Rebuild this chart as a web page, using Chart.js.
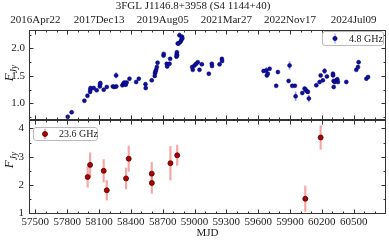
<!DOCTYPE html>
<html>
<head>
<meta charset="utf-8">
<script src="https://cdn.jsdelivr.net/npm/chart.js@4/dist/chart.umd.min.js"></script>
<style>
  body { margin: 0; background: #fff; }
  #wrap { position: relative; width: 389px; height: 243px; }
  #top { position: absolute; left: 0; top: 0; }
  #bot { position: absolute; left: 0; top: 120px; }
</style>
</head>
<body>
<div id="wrap">
  <canvas id="top" width="389" height="121"></canvas>
  <canvas id="bot" width="389" height="123"></canvas>
</div>
<script>
// 4.8 GHz light curve
var mjd48 = [57805, 57842, 57962, 57991, 58016, 58018, 58020, 58050, 58078, 58108, 58110, 58112,
  58144, 58173, 58230, 58245, 58261, 58263, 58320, 58330, 58338, 58345, 58352, 58360, 58387,
  58450, 58475, 58538, 58540, 58597, 58625, 58628, 58632, 58638, 58645, 58652, 58708, 58710,
  58738, 58742, 58765, 58770, 58830, 58832, 58834, 58836, 58842, 58850, 58858, 58868, 58875,
  58882, 58885,
  58978, 58984, 59000, 59016, 59031, 59047, 59069, 59135, 59163, 59165, 59236, 59258, 59260,
  59651, 59676, 59682, 59691, 59708, 59770, 59786, 59887, 59896, 59921, 59946, 59953,
  60016, 60038, 60047, 60060, 60069, 60078, 60148, 60179, 60189, 60210, 60226, 60248,
  60305, 60306, 60311, 60312, 60321, 60337, 60346, 60352, 60431, 60525, 60541, 60547, 60620, 60636];
var flux48 = [0.76, 0.84, 1.05, 1.14, 1.21, 1.25, 1.28, 1.28, 1.24, 1.31, 1.35, 1.37,
  1.25, 1.30, 1.31, 1.30, 1.51, 1.31, 1.33, 1.36, 1.38, 1.35, 1.34, 1.38, 1.45,
  1.39, 1.45, 1.35, 1.28, 1.42, 1.50, 1.55, 1.58, 1.61, 1.66, 1.74, 1.87, 1.90,
  1.72, 1.67, 1.72, 1.81, 1.85, 1.89, 1.93, 1.87, 2.09, 2.09, 2.24, 2.12, 2.15,
  2.21, 2.18,
  1.66, 1.61, 1.69, 1.72, 1.75, 1.61, 1.71, 1.54, 1.72, 1.68, 1.71, 1.81, 1.77,
  1.59, 1.60, 1.51, 1.54, 1.63, 1.32, 1.57, 1.41, 1.69, 1.32, 1.32, 1.13,
  1.19, 1.27, 1.25, 1.22, 1.21, 1.09, 1.33, 1.39, 1.51, 1.42, 1.59, 1.49,
  1.54, 1.51, 1.41, 1.30, 1.39, 1.42, 1.44, 1.39, 1.39, 1.61, 1.66, 1.75, 1.45, 1.48];
var err48 = [0.02, 0.02, 0.02, 0.02, 0.02, 0.02, 0.02, 0.02, 0.02, 0.02, 0.02, 0.02,
  0.02, 0.02, 0.02, 0.02, 0.05, 0.03, 0.02, 0.02, 0.02, 0.02, 0.02, 0.02, 0.02,
  0.02, 0.02, 0.03, 0.02, 0.02, 0.02, 0.02, 0.02, 0.02, 0.02, 0.03, 0.03, 0.03,
  0.02, 0.02, 0.02, 0.02, 0.02, 0.02, 0.02, 0.02, 0.03, 0.03, 0.04, 0.04, 0.04,
  0.04, 0.04,
  0.02, 0.02, 0.02, 0.02, 0.02, 0.02, 0.02, 0.02, 0.02, 0.02, 0.02, 0.02, 0.02,
  0.03, 0.05, 0.03, 0.03, 0.02, 0.02, 0.02, 0.02, 0.07, 0.02, 0.02, 0.08,
  0.02, 0.02, 0.02, 0.02, 0.02, 0.06, 0.02, 0.02, 0.02, 0.02, 0.05, 0.02,
  0.03, 0.02, 0.02, 0.02, 0.02, 0.02, 0.02, 0.02, 0.02, 0.02, 0.02, 0.03, 0.02, 0.02];

// 23.6 GHz light curve
var mjd236 = [57993, 58016, 58144, 58173, 58355, 58380, 58597, 58598, 58773, 58837, 60044, 60189];
var flux236 = [2.28, 2.71, 2.50, 1.81, 2.23, 2.93, 2.40, 2.07, 2.77, 3.05, 1.51, 3.68];
var err236 = [0.36, 0.43, 0.40, 0.35, 0.37, 0.45, 0.40, 0.37, 0.60, 0.36, 0.45, 0.42];

// axis labels
var mjdLabels = [57500, 57800, 58100, 58400, 58700, 59000, 59300, 59600, 59900, 60200, 60500];
var dateTickMjd = [57500, 58100, 58700, 59300, 59900, 60500];
var dateTickLabels = ['2016Apr22', '2017Dec13', '2019Aug05', '2021Mar27', '2022Nov17', '2024Jul09'];
var fluxLabelsTop = [1.0, 1.5, 2.0];
var fluxLabelsBot = [1, 2, 3, 4];

var FONT = 'Liberation Serif';
var xMin = 57440, xMax = 60805;

var xTicks = [];
for (var v = 57400; v <= 60800; v += 100) xTicks.push(v);

var framePlugin = {
  id: 'frame',
  afterDraw: function(chart, args, o) {
    var ctx = chart.ctx, a = chart.chartArea;
    var xs = chart.scales.x, ys = chart.scales.y;
    ctx.save();
    ctx.strokeStyle = '#333';
    ctx.lineWidth = 1;
    var L = Math.round(a.left) + 0.5, R = Math.round(a.right) - 0.5;
    var T = Math.round(a.top) + 0.5, B = Math.round(a.bottom) - 0.5;
    ctx.strokeRect(L, T, R - L, B - T);
    ctx.beginPath();
    xTicks.forEach(function(t) {
      if (t < xMin || t > xMax) return;
      var px = Math.round(xs.getPixelForValue(t)) + 0.5;
      var len = ((t - 57500) % 300 === 0) ? 4 : 2;
      ctx.moveTo(px, T); ctx.lineTo(px, T + len);
      ctx.moveTo(px, B); ctx.lineTo(px, B - len);
    });
    o.yTicks.forEach(function(t) {
      var py = Math.round(ys.getPixelForValue(t)) + 0.5;
      var len = o.yMajor.indexOf(t) >= 0 ? 4 : 2;
      ctx.moveTo(L, py); ctx.lineTo(L + len, py);
      ctx.moveTo(R, py); ctx.lineTo(R - len, py);
    });
    ctx.stroke();

    // y title  F_Jy
    ctx.translate(o.titleX, o.titleY);
    ctx.rotate(-Math.PI / 2);
    ctx.fillStyle = '#222';
    ctx.textBaseline = 'alphabetic';
    ctx.font = 'italic 13px ' + FONT;
    var wF = ctx.measureText('F').width;
    ctx.font = 'italic 9.5px ' + FONT;
    var wJ = ctx.measureText('Jy').width;
    var x0 = -(wF + wJ) / 2;
    ctx.font = 'italic 13px ' + FONT;
    ctx.fillText('F', x0, 4);
    ctx.font = 'italic 9.5px ' + FONT;
    ctx.fillText('Jy', x0 + wF, 7.5);
    ctx.restore();

    // legend
    var lg = o.legend;
    ctx.save();
    ctx.fillStyle = 'rgba(255,255,255,0.85)';
    ctx.strokeStyle = '#bbb';
    ctx.lineWidth = 1;
    ctx.beginPath();
    ctx.roundRect(lg.x + 0.5, lg.y + 0.5, lg.w, lg.h, 2.5);
    ctx.fill(); ctx.stroke();
    var my = lg.y + lg.h / 2 + 0.5;
    ctx.strokeStyle = lg.barColor;
    ctx.lineWidth = lg.barWidth;
    ctx.beginPath();
    ctx.moveTo(lg.mx, my - 5); ctx.lineTo(lg.mx, my + 5);
    ctx.stroke();
    ctx.fillStyle = lg.dotColor;
    ctx.strokeStyle = lg.dotEdge;
    ctx.lineWidth = 0.8;
    ctx.beginPath();
    ctx.arc(lg.mx, my, lg.r, 0, Math.PI * 2);
    ctx.fill(); ctx.stroke();
    ctx.fillStyle = '#222';
    ctx.font = '10px ' + FONT;
    ctx.textBaseline = 'middle';
    ctx.fillText(lg.label, lg.tx, my + 0.5);
    ctx.restore();
  }
};

function pts(m, f) { return m.map(function(x, i) { return { x: x, y: f[i] }; }); }
function bars(m, f, e) { return m.map(function(x, i) { return { x: x, y: [f[i] - e[i], f[i] + e[i]] }; }); }
function noPadX(s, h) { s.height = h; s.paddingLeft = 0; s.paddingRight = 0; }
function noPadY(s) { s.width = 29; s.paddingTop = 0; s.paddingBottom = 0; }

var tickFont = { family: FONT, size: 11 };

new Chart(document.getElementById('top'), {
  type: 'scatter',
  data: {
    datasets: [
      { type: 'scatter', label: '4.8 GHz', data: pts(mjd48, flux48),
        backgroundColor: '#10109c', borderColor: '#000070', borderWidth: 0.5, pointRadius: 2.0 },
      { type: 'bar', label: 'err', data: bars(mjd48, flux48, err48),
        backgroundColor: 'rgba(120,120,250,0.75)', barThickness: 1, grouped: false }
    ]
  },
  plugins: [framePlugin],
  options: {
    responsive: false,
    animation: false,
    layout: { autoPadding: false, padding: { left: 0, right: 3, top: 0, bottom: 1 } },
    scales: {
      x: {
        type: 'linear', position: 'top', min: xMin, max: xMax, offset: false,
        grid: { display: false, drawTicks: false, offset: false }, border: { display: false },
        afterBuildTicks: function(s) { s.ticks = xTicks.filter(function(t) { return t >= xMin && t <= xMax; }).map(function(t) { return { value: t }; }); },
        afterFit: function(s) { noPadX(s, 17); },
        ticks: {
          autoSkip: false, maxRotation: 0, padding: 3, color: '#222', font: tickFont,
          callback: function(val) { var k = dateTickMjd.indexOf(val); return k >= 0 ? dateTickLabels[k] : ''; }
        }
      },
      y: {
        type: 'linear', min: 0.70, max: 2.33, beginAtZero: false,
        grid: { display: false, drawTicks: false }, border: { display: false },
        afterBuildTicks: function(s) { s.ticks = [0.75, 1.0, 1.25, 1.5, 1.75, 2.0, 2.25].map(function(t) { return { value: t }; }); },
        afterFit: noPadY,
        ticks: {
          autoSkip: false, padding: 4, color: '#222', font: tickFont,
          callback: function(val) { return fluxLabelsTop.indexOf(val) >= 0 ? val.toFixed(1) : ''; }
        }
      }
    },
    plugins: {
      legend: { display: false },
      tooltip: { enabled: false },
      title: { display: true, text: '3FGL J1146.8+3958 (S4 1144+40)', color: '#222',
        font: { family: FONT, size: 11, weight: 'normal' }, padding: { top: 0, bottom: 0 } },
      frame: {
        yTicks: [0.75, 1.0, 1.25, 1.5, 1.75, 2.0, 2.25], yMajor: [1.0, 1.5, 2.0],
        titleX: 9, titleY: 73,
        legend: { x: 322, y: 31, w: 61, h: 14, mx: 335, r: 2.1, tx: 349, label: '4.8 GHz',
          dotColor: '#10109c', dotEdge: '#000070', barColor: 'rgba(120,120,250,0.9)', barWidth: 1 }
      }
    }
  }
});

new Chart(document.getElementById('bot'), {
  type: 'scatter',
  data: {
    datasets: [
      { type: 'scatter', label: '23.6 GHz', data: pts(mjd236, flux236),
        backgroundColor: '#b00000', borderColor: '#500000', borderWidth: 0.8, pointRadius: 2.5 },
      { type: 'bar', label: 'err', data: bars(mjd236, flux236, err236),
        backgroundColor: 'rgba(240,120,120,0.65)', barThickness: 1.5, grouped: false }
    ]
  },
  plugins: [framePlugin],
  options: {
    responsive: false,
    animation: false,
    layout: { autoPadding: false, padding: { left: 0, right: 3, top: 0, bottom: 0 } },
    scales: {
      x: {
        type: 'linear', position: 'bottom', min: xMin, max: xMax, offset: false,
        grid: { display: false, drawTicks: false, offset: false }, border: { display: false },
        afterBuildTicks: function(s) { s.ticks = xTicks.filter(function(t) { return t >= xMin && t <= xMax; }).map(function(t) { return { value: t }; }); },
        afterFit: function(s) { noPadX(s, 29); },
        ticks: {
          autoSkip: false, maxRotation: 0, padding: 2, color: '#222', font: tickFont,
          callback: function(val) { return mjdLabels.indexOf(val) >= 0 ? String(val) : ''; }
        },
        title: { display: true, text: 'MJD', color: '#222', font: { family: FONT, size: 11 }, padding: { top: 0, bottom: 3 } }
      },
      y: {
        type: 'linear', min: 0.97, max: 4.3, beginAtZero: false,
        grid: { display: false, drawTicks: false }, border: { display: false },
        afterBuildTicks: function(s) { s.ticks = [1, 1.5, 2, 2.5, 3, 3.5, 4].map(function(t) { return { value: t }; }); },
        afterFit: noPadY,
        ticks: {
          autoSkip: false, padding: 5, color: '#222', font: tickFont,
          callback: function(val) { return fluxLabelsBot.indexOf(val) >= 0 ? String(val) : ''; }
        }
      }
    },
    plugins: {
      legend: { display: false },
      tooltip: { enabled: false },
      frame: {
        yTicks: [1, 1.5, 2, 2.5, 3, 3.5, 4], yMajor: [1, 2, 3, 4],
        titleX: 9, titleY: 40,
        legend: { x: 33, y: 7, w: 64, h: 13, mx: 45, r: 2.5, tx: 59, label: '23.6 GHz',
          dotColor: '#b00000', dotEdge: '#500000', barColor: 'rgba(240,120,120,0.8)', barWidth: 1.5 }
      }
    }
  }
});
</script>
</body>
</html>
